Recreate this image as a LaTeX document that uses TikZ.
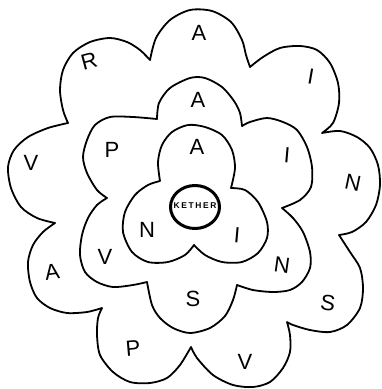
\documentclass[tikz,border=0pt]{standalone}
\usepackage{fontspec}
\usetikzlibrary{shapes.geometric}
\setmainfont{Liberation Sans}
\newfontfamily\kfont[LetterSpace=20]{Liberation Sans}
\begin{document}
\begin{tikzpicture}[x=1pt,y=-1pt,
  outline/.style={line width=1.8pt,line join=round,line cap=round,draw=black},
  core/.style={line width=3pt,draw=black},
  lt/.style={font=\fontsize{22}{22}\selectfont,inner sep=0pt},
  kt/.style={font=\kfont\bfseries\fontsize{8.4}{9}\selectfont,inner sep=0pt}]
\useasboundingbox (0,0) rectangle (381,389);
% outer flower (9 petals)
\draw[outline]
 plot[smooth] coordinates {(150,60) (156,38) (170,20) (190,10) (212,11) (231,22) (242,40) (246,55) (250,67)}
 -- plot[smooth] coordinates {(250,67) (263,57) (280,48) (300,46) (317,50) (330,63) (338,83) (339,103) (333,123) (322,133)}
 -- plot[smooth] coordinates {(322,133) (340,131) (357,137) (370,148) (378,165) (380,185) (376,205) (366,222) (352,232) (339,235)}
 -- plot[smooth] coordinates {(339,235) (350,252) (360,268) (363,288) (360,308) (347,325) (330,332) (310,330) (293,325) (287,322)}
 -- plot[smooth] coordinates {(287,322) (290,335) (290,352) (283,368) (270,382) (253,387) (233,385) (213,375) (197,358) (191,347)}
 -- plot[smooth] coordinates {(191,347) (180,365) (167,378) (150,383) (130,382) (113,372) (100,355) (97,335) (98,318) (102,308)}
 -- plot[smooth] coordinates {(102,308) (87,312) (67,313) (50,308) (37,298) (30,282) (28,262) (33,245) (43,232) (55,223)}
 -- plot[smooth] coordinates {(55,223) (37,218) (21,207) (11,188) (8,167) (14,150) (28,137) (48,128) (68,123)}
 -- plot[smooth] coordinates {(68,123) (63,110) (60,90) (63,70) (73,53) (90,42) (110,38) (127,42) (140,50) (150,60)}
 -- cycle;
% middle flower (6 petals)
\draw[outline]
 plot[smooth] coordinates {(157,119) (159,103) (170,88) (190,78) (205,78) (222,87) (234,101) (240,113) (242,126)}
 -- plot[smooth] coordinates {(242,126) (250,122) (267,118) (283,122) (297,130) (307,147) (312,167) (311,187) (300,200) (282,208)}
 -- plot[smooth] coordinates {(282,208) (293,218) (303,232) (310,252) (310,268) (302,282) (290,290) (273,292) (253,290) (237,285)}
 -- plot[smooth] coordinates {(237,285) (233,300) (225,316) (210,328) (190,333) (173,328) (160,318) (152,305) (147,282)}
 -- plot[smooth] coordinates {(147,282) (133,285) (113,287) (97,282) (85,272) (80,255) (82,235) (88,218) (97,205) (107,198)}
 -- plot[smooth] coordinates {(107,198) (97,190) (87,173) (83,157) (87,140) (95,125) (110,117) (133,117) (157,119)}
 -- cycle;
% inner flower (3 petals)
\draw[outline]
 plot[smooth] coordinates {(160,181) (158,162) (162,145) (172,132) (188,125) (205,127) (222,135) (232,150) (235,168) (231,188)}
 -- plot[smooth] coordinates {(231,188) (245,190) (258,202) (267,222) (267,238) (258,253) (242,262) (222,262) (205,255) (194,245)}
 -- plot[smooth] coordinates {(194,245) (185,255) (168,262) (148,262) (132,252) (123,232) (125,212) (135,195) (148,185) (160,181)}
 -- cycle;
% Kether
\node[core,ellipse,minimum width=49pt,minimum height=43pt,inner sep=0pt] (kether) at (195,207) {};
\node[kt] (kethertext) at (195,206) {KETHER};
% outer letters
\node[lt] (o1) at (199,33) {A};
\node[lt,rotate=-10] (o2) at (311,77) {I};
\node[lt,rotate=-12] (o3) at (353,183) {N};
\node[lt,rotate=-8] (o4) at (328,303) {S};
\node[lt] (o5) at (245,362) {V};
\node[lt,rotate=5] (o6) at (133,348) {P};
\node[lt,rotate=8] (o7) at (52,272) {A};
\node[lt] (o8) at (31,163) {V};
\node[lt,rotate=15] (o9) at (89,61) {R};
% middle letters
\node[lt] (m1) at (198,100) {A};
\node[lt,rotate=-5] (m2) at (287,155) {I};
\node[lt,rotate=-8] (m3) at (282,265) {N};
\node[lt] (m4) at (193,299) {S};
\node[lt] (m5) at (105,257) {V};
\node[lt] (m6) at (112,150) {P};
% inner letters
\node[lt] (i1) at (197,147) {A};
\node[lt] (i2) at (147,230) {N};
\node[lt,rotate=-5] (i3) at (237,235) {I};
\end{tikzpicture}
\end{document}
